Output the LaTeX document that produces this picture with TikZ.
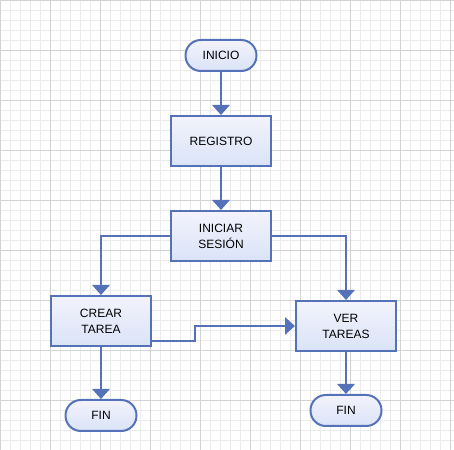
\documentclass[tikz,border=0pt]{standalone}
\usepackage{fontspec}
\setmainfont{Liberation Sans}
\usepackage{xcolor}
\usepackage{tikz}
\usetikzlibrary{arrows.meta}

\definecolor{borde}{HTML}{5572B9}
\definecolor{arriba}{HTML}{F3F3FC}
\definecolor{abajo}{HTML}{DAE3F7}
\definecolor{rejilla}{HTML}{EBEBEB}
\definecolor{rejillab}{HTML}{D3D3D3}

\tikzset{
  caja/.style={draw=borde, line width=1.5pt, top color=arriba, bottom color=abajo,
    font=\fontsize{9}{12}\selectfont, align=center, inner sep=0pt},
  proceso/.style={caja, rectangle, minimum width=75pt, minimum height=37.5pt},
  terminal/.style={caja, rectangle, rounded corners=11.5pt, minimum width=53.25pt, minimum height=23.25pt},
  flecha/.style={draw=borde, line width=1.5pt, -{Triangle[width=13pt,length=7.5pt]}}
}

\begin{document}
\begin{tikzpicture}[x=0.75pt, y=0.75pt]
\useasboundingbox (0,0) rectangle (454,450);
\fill[white] (0,0) rectangle (454,450);
\draw[rejilla, line width=0.5pt] (0,0) grid[step=7.5pt] (454,450);
\draw[rejillab, line width=0.6pt] (0,0) grid[step=37.5pt] (454,450);

\node[terminal] (inicio) at (221, 394.5) {INICIO};
\node[proceso] (registro) at (221, 309) {REGISTRO};
\node[proceso] (sesion) at (221, 214) {INICIAR\\SESIÓN};
\node[proceso] (crear) at (101, 129) {CREAR\\TAREA};
\node[proceso] (ver) at (346, 124) {VER\\TAREAS};
\node[terminal] (fin1) at (101, 34.5) {FIN};
\node[terminal] (fin2) at (346, 39.5) {FIN};

\draw[flecha] (inicio) -- (registro);
\draw[flecha] (registro) -- (sesion);
\draw[flecha] (sesion.west) -| (crear.north);
\draw[flecha] (sesion.east) -| (ver.north);
\draw[flecha] ([yshift=4.5pt]crear.south east) -- ++(43,0) |- (ver.west);
\draw[flecha] (crear) -- (fin1);
\draw[flecha] (ver) -- (fin2);
\end{tikzpicture}
\end{document}
